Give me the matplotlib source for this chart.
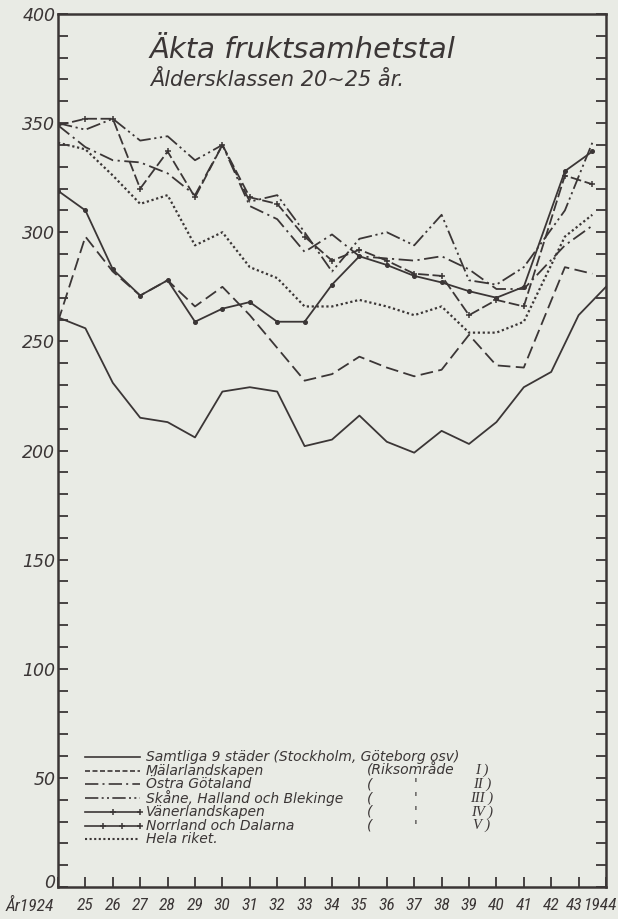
import matplotlib
matplotlib.use("Agg")
import matplotlib.pyplot as plt
from matplotlib.ticker import MultipleLocator, FixedLocator
from matplotlib import font_manager
from matplotlib.transforms import ScaledTranslation

# ---------------- data ----------------
# Samtliga 9 städer: yearly values 1924-1944
years_cities = [1924, 1925, 1926, 1927, 1928, 1929, 1930, 1931, 1932, 1933, 1934,
                1935, 1936, 1937, 1938, 1939, 1940, 1941, 1942, 1943, 1944]
samtliga = [261, 256, 231, 215, 213, 206, 227, 229, 227, 202, 205,
            216, 204, 199, 209, 203, 213, 229, 236, 262, 275]

# Regional series: yearly 1924-1941, then two later points as drawn
years_reg = [1924, 1925, 1926, 1927, 1928, 1929, 1930, 1931, 1932, 1933,
             1934, 1935, 1936, 1937, 1938, 1939, 1940, 1941, 1942.5, 1943.5]
malar = [259, 298, 282, 271, 278, 266, 275, 262, 247, 232,
         235, 243, 238, 234, 237, 253, 239, 238, 284, 281]
ostra = [349, 339, 333, 332, 327, 317, 340, 312, 306, 291,
         299, 289, 288, 287, 289, 283, 274, 274, 294, 303]
skane = [350, 347, 352, 342, 344, 333, 340, 314, 317, 300,
         282, 297, 300, 294, 308, 278, 276, 284, 310, 341]
vaner = [349, 352, 352, 320, 337, 316, 340, 316, 313, 298,
         287, 292, 287, 281, 280, 262, 269, 266, 326, 322]
norr = [319, 310, 283, 271, 278, 259, 265, 268, 259, 259,
        276, 289, 285, 280, 277, 273, 270, 275, 328, 337]
hela = [341, 338, 326, 313, 317, 294, 300, 284, 279, 266,
        266, 269, 266, 262, 266, 254, 254, 259, 298, 308]

xtick_years = list(range(1924, 1945))
xtick_labels = ["År1924"] + [str(y)[2:] for y in range(1925, 1944)] + ["1944"]
ytick_vals = [0, 50, 100, 150, 200, 250, 300, 350, 400]

legend_names = ["Samtliga 9 städer (Stockholm, Göteborg osv)",
                "Mälarlandskapen", "Östra Götaland",
                "Skåne, Halland och Blekinge", "Vänerlandskapen",
                "Norrland och Dalarna", "Hela riket."]
legend_right = ["", "(Riksområde", "(", "(", "(", "(", ""]
legend_mark = ["", "", "'", "'", "'", "'", ""]
legend_roman = ["", "I", "II", "III", "IV", "V", ""]

# ---------------- style ----------------
BG = "#e9ebe5"
INK = "#3b3636"
FONT = "DejaVu Sans"


def pick_font(cands):
    for c in cands:
        try:
            font_manager.findfont(c, fallback_to_default=False)
            return c
        except Exception:
            pass
    return FONT


NARROW = pick_font(["Liberation Sans Narrow", "DejaVu Sans Condensed",
                    "Roboto Condensed", "Open Sans Condensed", FONT])

fig = plt.figure(figsize=(6.18, 9.19), dpi=100, facecolor=BG)
ax = fig.add_axes([58/618, 1-887/919, (606-58)/618, (887-14)/919])
ax.set_facecolor(BG)

lw = 1.3
ax.plot(years_cities, samtliga, color=INK, lw=lw, ls="-")
ax.plot(years_reg, malar, color=INK, lw=lw, ls=(0, (7, 3)))
ax.plot(years_reg, ostra, color=INK, lw=lw, ls=(0, (8, 2.5, 1.2, 2.5)))
ax.plot(years_reg, skane, color=INK, lw=lw, ls=(0, (8, 2, 1.2, 2, 1.2, 2)))
ax.plot(years_reg, vaner, color=INK, lw=lw, ls=(0, (6, 2)), marker="+", ms=5, mew=1.1)
ax.plot(years_reg, norr, color=INK, lw=lw, ls="-", marker="o", ms=2.6)
ax.plot(years_reg, hela, color=INK, lw=1.6, ls=(0, (1, 1.2)))

ax.set_xlim(1924, 1944)
ax.set_ylim(0, 400)

for s in ax.spines.values():
    s.set_color(INK)
    s.set_linewidth(1.8)

ax.yaxis.set_major_locator(FixedLocator(ytick_vals))
ax.yaxis.set_minor_locator(MultipleLocator(10))
ax.set_yticklabels([str(v) for v in ytick_vals], fontsize=12.5, style="italic",
                   color=INK, family=FONT)
ax.tick_params(axis="y", which="both", direction="in", length=7, width=1.3,
               color=INK, left=True, right=True, pad=2)
ax.set_xticks(xtick_years)
ax.set_xticklabels(xtick_labels, fontsize=12.5, style="italic", color=INK,
                   family=NARROW)
ax.tick_params(axis="x", which="both", direction="in", length=7, width=1.3,
               color=INK, bottom=True, top=False, pad=8)
xlabs = ax.get_xticklabels()
if NARROW == FONT:
    for lab in xlabs:
        lab.set_fontsize(10.5)


def shift(lab, dx, dy=0):
    lab.set_transform(lab.get_transform() +
                      ScaledTranslation(dx/100, dy/100, fig.dpi_scale_trans))


shift(xlabs[0], -28)
shift(xlabs[-2], -4)
shift(xlabs[-1], -5)
ylabs = ax.get_yticklabels()
shift(ylabs[0], 0, 6)

# Titles
fig.text(150/618, 1-58/919, "Äkta fruktsamhetstal", fontsize=21, style="italic",
         color=INK, family=FONT, ha="left", va="baseline")
fig.text(150/618, 1-86/919, "Åldersklassen 20~25 år.", fontsize=15, style="italic",
         color=INK, family=FONT, ha="left", va="baseline")

# Legend (drawn manually)
styles = [
    dict(ls="-"),
    dict(ls=(0, (3, 1.5))),
    dict(ls=(0, (8, 2.5, 1.2, 2.5))),
    dict(ls=(0, (8, 2, 1.2, 2, 1.2, 2))),
    dict(ls="-", marker="+", ms=5, mew=1.1, markevery=[1, 2]),
    dict(ls="-", marker="+", ms=4, mew=1.1, markevery=[1, 2, 3]),
    dict(ls=(0, (1, 1.2)), lw=1.5),
]
row_y0 = 757
row_dy = 13.7
LFS = 10
for i, name in enumerate(legend_names):
    yy = 1 - (row_y0 + i * row_dy) / 919
    st = dict(color=INK, lw=1.2)
    st.update(styles[i])
    if i in (4, 5):
        n = 3 if i == 4 else 4
        xs = [85/618 + k * (55/618) / (n - 1) for k in range(n)]
        fig.add_artist(plt.Line2D(xs, [yy] * n, transform=fig.transFigure, **st))
    else:
        fig.add_artist(plt.Line2D([85/618, 140/618], [yy, yy],
                                  transform=fig.transFigure, **st))
    fig.text(146/618, yy, name, fontsize=LFS, style="italic", color=INK,
             family=FONT, ha="left", va="center")
    if legend_right[i]:
        fig.text(367/618, yy, legend_right[i], fontsize=LFS, style="italic",
                 color=INK, family=FONT, ha="left", va="center")
    if legend_mark[i]:
        fig.text(416/618, yy, legend_mark[i], fontsize=LFS, style="italic",
                 color=INK, family=FONT, ha="center", va="center")
    if legend_roman[i]:
        fig.text(482/618, yy, legend_roman[i] + " )", fontsize=LFS + 0.5,
                 style="italic", color=INK, family="Liberation Serif",
                 ha="center", va="center")

fig.savefig("out.png", dpi=100, facecolor=BG)
